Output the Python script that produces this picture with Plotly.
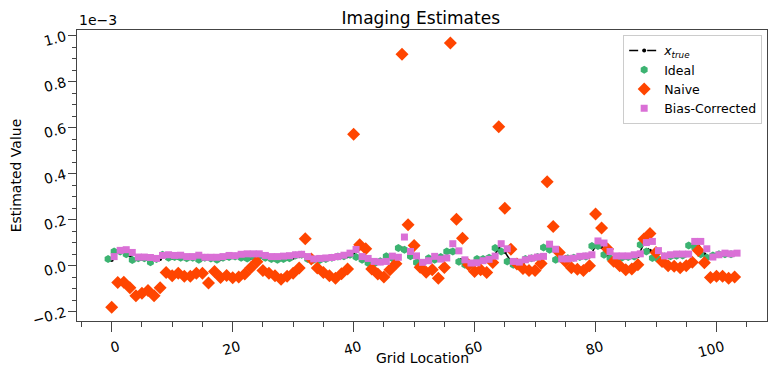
import numpy as np
import plotly.graph_objects as go

# values in units of 1e-3, grid locations 0..103
x_true = [0.025, 0.06, 0.06, 0.045, 0.028, 0.03, 0.03, 0.025, 0.03, 0.04,
          0.035, 0.035, 0.035, 0.035, 0.035, 0.03, 0.033, 0.033, 0.03, 0.035,
          0.037, 0.038, 0.035, 0.035, 0.038, 0.04, 0.035, 0.032, 0.03, 0.032,
          0.035, 0.042, 0.045, 0.032, 0.028, 0.028, 0.03, 0.035, 0.038, 0.042,
          0.05, 0.036, 0.025, 0.015, 0.012, 0.02, 0.038, 0.04, 0.075, 0.068,
          0.04, 0.015, 0.015, 0.03, 0.028, 0.036, 0.065, 0.06, 0.02, 0.008,
          0.008, 0.026, 0.03, 0.036, 0.075, 0.06, 0.02, 0.008, 0.014, 0.028,
          0.032, 0.038, 0.078, 0.068, 0.028, 0.03, 0.033, 0.035, 0.038, 0.04,
          0.085, 0.082, 0.048, 0.034, 0.035, 0.036, 0.038, 0.042, 0.095, 0.065,
          0.035, 0.028, 0.04, 0.042, 0.044, 0.046, 0.09, 0.085, 0.05, 0.036,
          0.045, 0.048, 0.05, 0.05]

ideal = [0.03, 0.062, 0.062, 0.05, 0.025, 0.033, 0.033, 0.015, 0.03, 0.048,
         0.035, 0.038, 0.035, 0.033, 0.035, 0.026, 0.035, 0.032, 0.026, 0.035,
         0.038, 0.04, 0.035, 0.032, 0.04, 0.042, 0.035, 0.03, 0.026, 0.03,
         0.033, 0.045, 0.048, 0.03, 0.026, 0.025, 0.03, 0.035, 0.04, 0.042,
         0.048, 0.038, 0.026, 0.012, 0.01, 0.02, 0.041, 0.033, 0.077, 0.07,
         0.041, 0.014, 0.012, 0.033, 0.026, 0.038, 0.062, 0.062, 0.018, 0.004,
         0.004, 0.029, 0.03, 0.035, 0.077, 0.062, 0.019, 0.004, 0.012, 0.029,
         0.033, 0.038, 0.08, 0.07, 0.026, 0.029, 0.033, 0.035, 0.038, 0.04,
         0.086, 0.086, 0.048, 0.033, 0.035, 0.036, 0.038, 0.04, 0.091, 0.062,
         0.034, 0.028, 0.04, 0.042, 0.044, 0.045, 0.088, 0.08, 0.05, 0.036,
         0.045, 0.05, 0.05, 0.05]

naive = [-0.18, -0.073, -0.072, -0.096, -0.13, -0.119, -0.107, -0.13, -0.096, -0.029,
         -0.043, -0.032, -0.046, -0.046, -0.032, -0.032, -0.075, -0.025, -0.051, -0.042,
         -0.052, -0.049, -0.036, -0.009, 0.018, -0.02, -0.032, -0.043, -0.058, -0.046,
         -0.032, -0.01, 0.118, 0.03, -0.01, -0.029, -0.043, -0.054, -0.035, -0.014,
         0.572, 0.091, 0.074, -0.014, -0.036, -0.049, -0.017, 0.009, 0.92, 0.178,
         0.088, -0.006, -0.028, -0.017, -0.054, -0.007, 0.968, 0.202, 0.12, 0.004,
         -0.025, -0.017, -0.029, 0.014, 0.604, 0.25, 0.072, 0.008, -0.012, -0.021,
         -0.021, 0.01, 0.365, 0.171, 0.058, 0.02, -0.009, -0.015, -0.021, 0.0,
         0.225, 0.164, 0.073, 0.02, 0.0, -0.017, -0.014, 0.004, 0.116, 0.14,
         0.058, 0.019, 0.0, -0.002, -0.008, 0.0, 0.015, 0.066, 0.013, -0.051,
         -0.045, -0.045, -0.054, -0.049]

bias_corrected = [0.04, 0.067, 0.07, 0.058, 0.038, 0.038, 0.036, 0.032, 0.045, 0.048,
                  0.045, 0.046, 0.04, 0.04, 0.046, 0.037, 0.037, 0.037, 0.04, 0.045,
                  0.044, 0.05, 0.052, 0.052, 0.052, 0.045, 0.04, 0.04, 0.042, 0.044,
                  0.048, 0.05, 0.04, 0.03, 0.032, 0.034, 0.036, 0.04, 0.046, 0.055,
                  0.071, 0.04, 0.032, 0.019, 0.016, 0.019, 0.042, 0.037, 0.125, 0.062,
                  0.043, 0.015, 0.022, 0.041, 0.029, 0.034, 0.096, 0.065, 0.026, 0.012,
                  0.013, 0.022, 0.028, 0.042, 0.096, 0.074, 0.019, 0.016, 0.026, 0.033,
                  0.038, 0.041, 0.094, 0.072, 0.03, 0.03, 0.033, 0.041, 0.043, 0.048,
                  0.108, 0.099, 0.062, 0.043, 0.043, 0.043, 0.048, 0.052, 0.101, 0.106,
                  0.066, 0.043, 0.048, 0.051, 0.051, 0.051, 0.106, 0.106, 0.074, 0.038,
                  0.048, 0.055, 0.052, 0.055]

grid = np.arange(len(x_true))

fig = go.Figure()
fig.add_trace(go.Scatter(x=grid, y=x_true, mode='lines+markers', name='<i>x</i><sub><i>true</i></sub>',
                         line=dict(color='black', dash='dash', width=1.5),
                         marker=dict(color='black', size=4)))
fig.add_trace(go.Scatter(x=grid - 0.6, y=ideal, mode='markers', name='Ideal',
                         marker=dict(symbol='hexagon', color='mediumseagreen', size=8)))
fig.add_trace(go.Scatter(x=grid, y=naive, mode='markers', name='Naive',
                         marker=dict(symbol='diamond', color='orangered', size=10)))
fig.add_trace(go.Scatter(x=grid + 0.4, y=bias_corrected, mode='markers', name='Bias-Corrected',
                         marker=dict(symbol='square', color='orchid', size=7)))

axis_style = dict(showline=True, mirror=True, linecolor='#444', linewidth=1,
                  ticks='outside', tickcolor='#444', tickangle=-15,
                  showgrid=False, zeroline=False, automargin=False,
                  tickfont=dict(size=14, color='black'))

# the page body keeps its default 8px margin, so the figure is 8px smaller
fig.update_layout(
    width=773, height=376,
    margin=dict(l=69, r=14, t=22, b=63),
    paper_bgcolor='white', plot_bgcolor='white',
    font=dict(family='DejaVu Sans', color='black'),
    title=dict(text='Imaging Estimates', x=0.534, xanchor='center', y=0.972, yanchor='middle',
               font=dict(size=17)),
    xaxis=dict(range=[-5.74, 108.35], tickvals=[0, 20, 40, 60, 80, 100], ticklen=10,
               ticklabelstandoff=2, ticklabelshift=7,
               minor=dict(dtick=5, tick0=0, ticks='outside', ticklen=5, tickcolor='#444'),
               **axis_style),
    yaxis=dict(range=[-0.240, 1.025], tickvals=[-0.2, 0.0, 0.2, 0.4, 0.6, 0.8, 1.0], ticklen=8,
               ticktext=['\u22120.2', '0.0', '0.2', '0.4', '0.6', '0.8', '1.0'],
               minor=dict(dtick=0.05, tick0=0, ticks='outside', ticklen=4, tickcolor='#444'),
               title=dict(text='Estimated Value', font=dict(size=14), standoff=19), **axis_style),
    legend=dict(x=0.993, y=0.983, xanchor='right', yanchor='top', bgcolor='white',
                bordercolor='#ccc', borderwidth=1, font=dict(size=12.5), tracegroupgap=0),
    showlegend=True,
)

# x-axis title placed as annotation to sit closer to the rotated tick labels
fig.add_annotation(text='Grid Location', xref='paper', yref='paper', x=0.5, y=-0.127,
                   xanchor='center', yanchor='middle', showarrow=False, font=dict(size=14))
fig.add_annotation(text='1e\u22123', xref='paper', yref='paper', x=0, y=1.0,
                   xanchor='left', yanchor='bottom', showarrow=False, font=dict(size=14))

fig.write_html("out.html")
